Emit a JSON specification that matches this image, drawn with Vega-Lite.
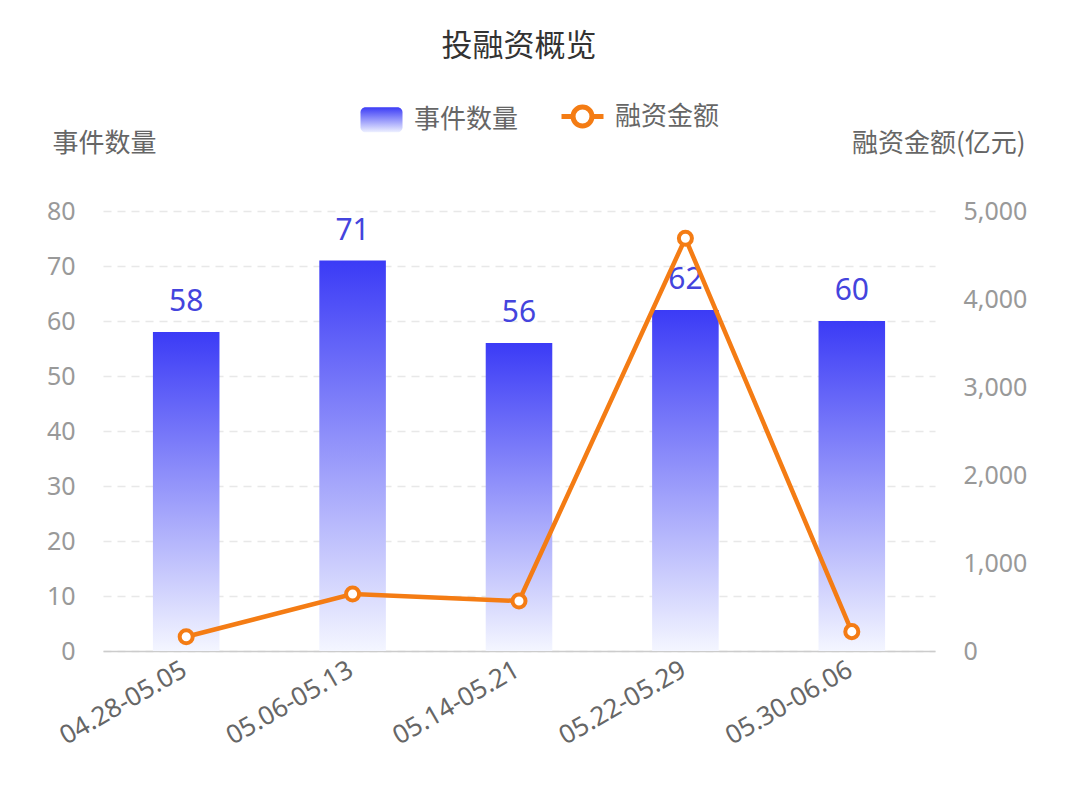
{
  "$schema": "https://vega.github.io/schema/vega-lite/v6.json",
  "width": 832,
  "height": 440,
  "autosize": {"type": "none"},
  "padding": {"left": 103, "top": 211, "right": 145, "bottom": 139},
  "background": "white",
  "title": {"text": "投融资概览", "fontSize": 31, "fontWeight": "normal", "color": "#333333", "font": "Noto Sans CJK SC", "anchor": "middle", "offset": 30},
  "config": {"font": "Noto Sans CJK SC", "view": {"stroke": null}},
  "data": {
    "values": [
      {"period": "04.28-05.05", "count": 58, "amount": 162},
      {"period": "05.06-05.13", "count": 71, "amount": 648},
      {"period": "05.14-05.21", "count": 56, "amount": 568},
      {"period": "05.22-05.29", "count": 62, "amount": 4690},
      {"period": "05.30-06.06", "count": 60, "amount": 220}
    ]
  },
  "layer": [
    {
      "layer": [
        {
          "mark": {"type": "bar", "color": {"gradient": "linear", "x1": 0, "y1": 0, "x2": 0, "y2": 1, "stops": [{"offset": 0, "color": "#3b3bf6"}, {"offset": 1, "color": "#f4f6ff"}]}},
          "encoding": {
            "x": {"field": "period", "type": "nominal", "sort": null, "scale": {"paddingInner": 0.6, "paddingOuter": 0.3},
              "axis": {"title": null, "labelAngle": -30, "labelFontSize": 26, "labelFont": "Noto Sans", "labelColor": "#666666", "ticks": false, "domainColor": "#cccccc", "domainWidth": 1.5, "labelPadding": 5, "labelOffset": -8, "grid": false}},
            "y": {"field": "count", "type": "quantitative", "scale": {"domain": [0, 80]},
              "axis": {"title": "事件数量", "titleAngle": 0, "titleAlign": "left", "titleBaseline": "middle", "titleX": -51, "titleY": -68, "titleFontSize": 26, "titleColor": "#666666", "titleFontWeight": "normal",
                "values": [0, 10, 20, 30, 40, 50, 60, 70, 80], "labelFontSize": 25, "labelFont": "Noto Sans", "labelColor": "#999999", "labelPadding": 28, "domain": false, "ticks": false,
                "grid": true, "gridDash": [8, 6], "gridColor": "#e8e8e8", "gridWidth": 1.5}}
          }
        },
        {
          "mark": {"type": "text", "dy": -21, "baseline": "alphabetic", "fontSize": 30, "color": "#4444dd", "font": "Noto Sans"},
          "encoding": {
            "x": {"field": "period", "type": "nominal", "sort": null},
            "y": {"field": "count", "type": "quantitative"},
            "text": {"field": "count", "type": "quantitative"}
          }
        }
      ]
    },
    {
      "layer": [
        {
          "mark": {"type": "line", "strokeWidth": 4.5},
          "encoding": {
            "x": {"field": "period", "type": "nominal", "sort": null},
            "y": {"field": "amount", "type": "quantitative", "scale": {"domain": [0, 5000]},
              "axis": {"orient": "right", "title": "融资金额(亿元)", "titleAngle": 0, "titleAlign": "right", "titleBaseline": "middle", "titleX": 90, "titleY": -68, "titleFontSize": 26, "titleColor": "#666666", "titleFontWeight": "normal",
                "values": [0, 1000, 2000, 3000, 4000, 5000], "format": ",.0f", "labelFontSize": 25, "labelFont": "Noto Sans", "labelColor": "#999999", "labelPadding": 28, "domain": false, "ticks": false, "grid": false}},
            "color": {"datum": "融资金额", "type": "nominal",
              "scale": {"domain": ["事件数量", "融资金额"], "range": ["#3b3bf6", "#f47c14"]},
              "legend": {"title": null, "orient": "none", "legendX": 255, "legendY": -118, "direction": "horizontal", "padding": 0,
                "labelFontSize": 26, "labelColor": "#666666", "labelOffset": 9, "columnPadding": 32, "symbolSize": 1764,
                "encode": {"symbols": {"update": {
                  "shape": [{"test": "datum.value === '事件数量'", "value": "M-0.76,-0.6H0.76C0.89,-0.6 1,-0.49 1,-0.36V0.36C1,0.49 0.89,0.6 0.76,0.6H-0.76C-0.89,0.6 -1,0.49 -1,0.36V-0.36C-1,-0.49 -0.89,-0.6 -0.76,-0.6Z"},
                            {"value": "M-1,0H-0.45M0.45,0H1M0.45,0C0.45,0.25 0.25,0.45 0,0.45C-0.25,0.45 -0.45,0.25 -0.45,0C-0.45,-0.25 -0.25,-0.45 0,-0.45C0.25,-0.45 0.45,-0.25 0.45,0Z"}],
                  "fill": [{"test": "datum.value === '事件数量'", "value": {"gradient": "linear", "x1": 0, "y1": 0, "x2": 0, "y2": 1, "stops": [{"offset": 0, "color": "#3b3bf6"}, {"offset": 1, "color": "#eef1ff"}]}},
                           {"value": "#ffffff"}],
                  "stroke": {"value": "#f47c14"},
                  "strokeOpacity": {"signal": "datum.value === '事件数量' ? 0 : 1"},
                  "strokeWidth": {"value": 5},
                  "size": {"value": 1764},
                  "opacity": {"value": 1}
                }}}
              }}
          }
        },
        {
          "mark": {"type": "point", "filled": false, "fill": "#ffffff", "stroke": "#f47c14", "strokeWidth": 4, "size": 170, "opacity": 1},
          "encoding": {
            "x": {"field": "period", "type": "nominal", "sort": null},
            "y": {"field": "amount", "type": "quantitative"}
          }
        }
      ]
    }
  ],
  "resolve": {"scale": {"y": "independent"}}
}
